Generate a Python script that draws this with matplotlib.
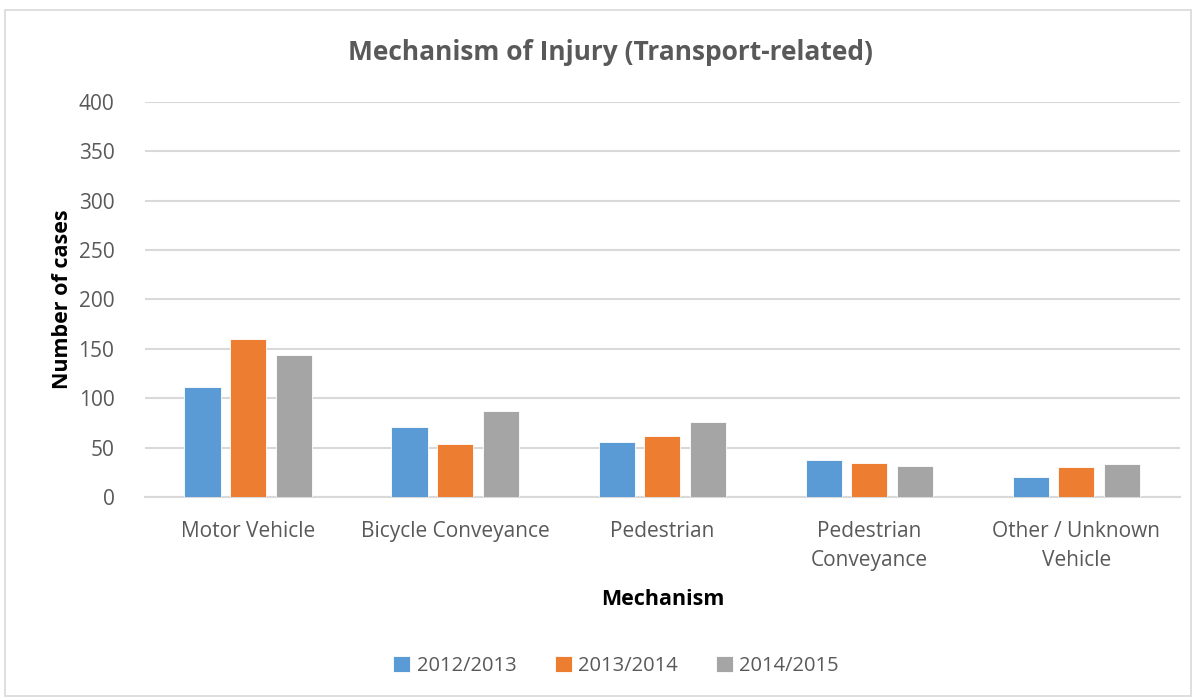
import matplotlib

matplotlib.use("Agg")
import matplotlib.pyplot as plt
import numpy as np
from matplotlib.patches import Rectangle

plt.rcParams["font.family"] = ["Open Sans", "DejaVu Sans"]

categories = ["Motor Vehicle", "Bicycle Conveyance", "Pedestrian",
              "Pedestrian\nConveyance", "Other / Unknown\nVehicle"]
years = ["2012/2013", "2013/2014", "2014/2015"]
v_2012 = [111, 71, 56, 37, 20]
v_2013 = [160, 54, 62, 34, 30]
v_2014 = [144, 87, 76, 31, 33]
colors = ["#5b9bd5", "#ed7d31", "#a5a5a5"]

TEXT = "#595959"

fig = plt.figure(figsize=(11.96, 6.98), dpi=100)
fig.patches.append(Rectangle((0.004, 0.003), 0.992, 0.983, transform=fig.transFigure,
                             fill=False, edgecolor="#d9d9d9", linewidth=1.2))
ax = fig.add_axes([0.1212, 0.288, 0.8654, 0.566])

x = np.arange(len(categories))
w = 0.174
step = 0.222
for i, (vals, lab) in enumerate(zip([v_2012, v_2013, v_2014], years)):
    ax.bar(x + (i - 1) * step, vals, width=w, color=colors[i], label=lab,
           edgecolor="white", linewidth=0.6, zorder=3)

ax.set_xlim(-0.5, len(categories) - 0.5)
ax.set_ylim(0, 400)
ax.set_yticks(range(0, 401, 50))
ax.grid(axis="y", color="#d9d9d9", linewidth=1.5, zorder=0)
for s in ["top", "right", "left"]:
    ax.spines[s].set_visible(False)
ax.spines["bottom"].set_color("#d9d9d9")
ax.spines["bottom"].set_linewidth(1.5)
ax.tick_params(axis="both", length=0, labelsize=15, labelcolor=TEXT)
ax.tick_params(axis="y", pad=22)
ax.tick_params(axis="x", pad=17)
ax.set_xticks(x)
ax.set_xticklabels(categories, linespacing=1.5)

fig.text(0.51, 0.925, "Mechanism of Injury (Transport-related)", fontsize=19,
         fontweight="bold", color=TEXT, ha="center", va="center")
ax.set_xlabel("Mechanism", fontsize=15.5, fontweight="bold", labelpad=13)
ax.set_ylabel("Number of cases", fontsize=15.5, fontweight="bold", labelpad=4)

fig.legend(loc="center", bbox_to_anchor=(0.515, 0.046), ncol=3, frameon=False,
           fontsize=14.5, labelcolor=TEXT, handlelength=0.85, handleheight=0.85,
           handletextpad=0.3, columnspacing=1.9)

fig.savefig("out.png", dpi=100)
